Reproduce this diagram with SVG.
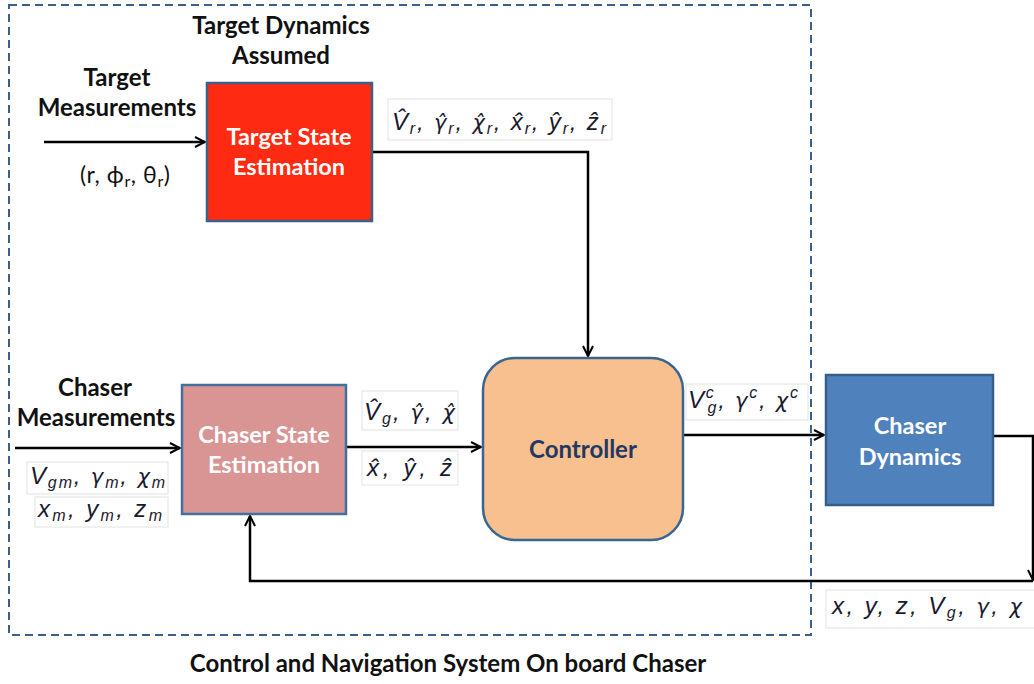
<svg xmlns="http://www.w3.org/2000/svg" width="1034" height="684" viewBox="0 0 1034 684">
<defs>
<marker id="arr" viewBox="0 0 12 12" refX="11" refY="6" markerWidth="12" markerHeight="12" markerUnits="userSpaceOnUse" orient="auto">
<path d="M1,1 L11,6 L1,11" fill="none" stroke="#000" stroke-width="2"/>
</marker>
<style>
.lbl{font-family:Lato,"Open Sans",sans-serif;font-weight:bold;font-size:24px;fill:#111;text-anchor:middle}
.wt{font-family:Lato,"Open Sans",sans-serif;font-weight:bold;font-size:23.5px;fill:#fff;text-anchor:middle}
.math{font-family:"Liberation Sans",Arial,sans-serif;font-style:italic;font-size:24px;fill:#1a1a2e}
.gr{font-family:"DejaVu Sans",sans-serif;font-style:italic;font-size:21px}
.sub{font-size:16px}
.mbox{fill:#fff;stroke:#e2e2e2;stroke-width:1}
.conn{fill:none;stroke:#000;stroke-width:2.5}
</style>
</defs>
<rect width="1034" height="684" fill="#fff"/>
<rect id="system-boundary" x="9" y="5" width="802" height="630" fill="none" stroke="#3c5f8e" stroke-width="2" stroke-dasharray="8,5"/>

<g id="connectors">
<path class="conn" d="M44,142 H205" marker-end="url(#arr)"/>
<path class="conn" d="M372,152 H588 V356" marker-end="url(#arr)"/>
<path class="conn" d="M15,448 H180" marker-end="url(#arr)"/>
<path class="conn" d="M346,447 H481" marker-end="url(#arr)"/>
<path class="conn" d="M683,435 H824" marker-end="url(#arr)"/>
<path class="conn" d="M993,436 H1033 V580" marker-end="url(#arr)"/>
<path class="conn" d="M1033,581 H250 V516" marker-end="url(#arr)"/>
</g>

<g id="target-state-estimation">
<rect x="207" y="83" width="165" height="138" fill="#ff2a12" stroke="#3f5f86" stroke-width="2.5"/>
<text class="wt" x="289" y="145">Target State</text>
<text class="wt" x="289" y="175">Estimation</text>
</g>

<g id="chaser-state-estimation">
<rect x="182" y="385" width="164" height="129" fill="#d99494" stroke="#41709c" stroke-width="2.5"/>
<text class="wt" x="264" y="443">Chaser State</text>
<text class="wt" x="264" y="473">Estimation</text>
</g>

<g id="controller">
<rect x="483" y="358" width="200" height="182" rx="32" ry="32" fill="#f8c08f" stroke="#3a6591" stroke-width="2.5"/>
<text class="lbl" x="583" y="458" style="fill:#1f3864">Controller</text>
</g>

<g id="chaser-dynamics">
<rect x="826" y="375" width="167" height="130" fill="#4f81bd" stroke="#385d8a" stroke-width="2.5"/>
<text class="wt" x="910" y="434">Chaser</text>
<text class="wt" x="910" y="465">Dynamics</text>
</g>

<g id="texts">
<text class="lbl" x="281" y="34">Target Dynamics</text>
<text class="lbl" x="281" y="64">Assumed</text>
<text class="lbl" x="117" y="86">Target</text>
<text class="lbl" x="117" y="116">Measurements</text>
<text x="80" y="183" textLength="90" style="font-family:Lato,'Open Sans',sans-serif;font-size:23px;fill:#111">(r, ϕ<tspan class="sub" dy="4">r</tspan><tspan dy="-4">, θ</tspan><tspan class="sub" dy="4">r</tspan><tspan dy="-4">)</tspan></text>
<text class="lbl" x="95" y="396">Chaser</text>
<text class="lbl" x="96" y="426">Measurements</text>
<text class="lbl" x="448" y="672">Control and Navigation System On board Chaser</text>
</g>

<g id="math-labels">
<rect class="mbox" x="388" y="99" width="224" height="41"/>
<text class="math" x="392" y="130" textLength="214" lengthAdjust="spacing">V̂<tspan class="sub" dy="4">r</tspan><tspan dy="-4">, </tspan><tspan class="gr">γ̂</tspan><tspan class="sub" dy="4">r</tspan><tspan dy="-4">, </tspan><tspan class="gr">χ̂</tspan><tspan class="sub" dy="4">r</tspan><tspan dy="-4">, x̂</tspan><tspan class="sub" dy="4">r</tspan><tspan dy="-4">, ŷ</tspan><tspan class="sub" dy="4">r</tspan><tspan dy="-4">, ẑ</tspan><tspan class="sub" dy="4">r</tspan></text>

<rect class="mbox" x="27" y="462" width="141" height="32"/>
<text class="math" x="30" y="484" textLength="135" lengthAdjust="spacing">V<tspan class="sub" dy="4">gm</tspan><tspan dy="-4">, </tspan><tspan class="gr">γ</tspan><tspan class="sub" dy="4">m</tspan><tspan dy="-4">, </tspan><tspan class="gr">χ</tspan><tspan class="sub" dy="4">m</tspan></text>
<rect class="mbox" x="35" y="497" width="133" height="30"/>
<text class="math" x="38" y="517" textLength="124" lengthAdjust="spacing">x<tspan class="sub" dy="4">m</tspan><tspan dy="-4">, y</tspan><tspan class="sub" dy="4">m</tspan><tspan dy="-4">, z</tspan><tspan class="sub" dy="4">m</tspan></text>

<rect class="mbox" x="362" y="391" width="96" height="39"/>
<text class="math" x="364" y="420" textLength="91" lengthAdjust="spacing">V̂<tspan class="sub" dy="4">g</tspan><tspan dy="-4">, </tspan><tspan class="gr">γ̂</tspan><tspan>, </tspan><tspan class="gr">χ̂</tspan></text>
<rect class="mbox" x="362" y="451" width="96" height="34"/>
<text class="math" x="367" y="476" textLength="85" lengthAdjust="spacing">x̂, ŷ, ẑ</text>

<rect class="mbox" x="686" y="384" width="122" height="36"/>
<text class="math" x="688" y="408" textLength="110" lengthAdjust="spacing">V<tspan class="sub" dy="-10">c</tspan><tspan class="sub" dx="-8" dy="15">g</tspan><tspan dy="-5">, </tspan><tspan class="gr">γ</tspan><tspan class="sub" dy="-10">c</tspan><tspan dy="10">, </tspan><tspan class="gr">χ</tspan><tspan class="sub" dy="-10">c</tspan></text>

<rect class="mbox" x="826" y="590" width="210" height="38"/>
<text class="math" x="832" y="614" textLength="190" lengthAdjust="spacing">x, y, z, V<tspan class="sub" dy="4">g</tspan><tspan dy="-4">, </tspan><tspan class="gr">γ</tspan><tspan>, </tspan><tspan class="gr">χ</tspan></text>
</g>
</svg>
